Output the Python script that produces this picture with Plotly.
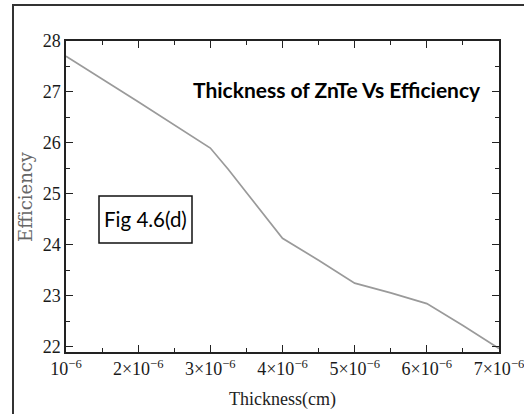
import plotly.graph_objects as go

thickness = [1.0e-6, 2.0e-6, 3.0e-6, 3.25e-6, 3.5e-6, 3.75e-6, 4.0e-6, 4.5e-6, 5.0e-6, 5.5e-6, 6.0e-6, 6.5e-6, 7.0e-6]
efficiency = [27.70, 26.81, 25.90, 25.48, 25.03, 24.58, 24.13, 23.70, 23.25, 23.06, 22.85, 22.42, 21.97]

x_tickvals = [1e-6, 2e-6, 3e-6, 4e-6, 5e-6, 6e-6, 7e-6]
x_ticktext = ["10<sup>−6</sup>", "2×10<sup>−6</sup>", "3×10<sup>−6</sup>", "4×10<sup>−6</sup>",
              "5×10<sup>−6</sup>", "6×10<sup>−6</sup>", "7×10<sup>−6</sup>"]
y_tickvals = [22, 23, 24, 25, 26, 27, 28]

W, H = 524, 414
L, R, T, B = 66, 25, 41, 62
pw, ph = W - L - R, H - T - B

def px(x):
    return (x - L) / pw

def py(y):
    return (H - B - y) / ph

fig = go.Figure()
fig.add_trace(go.Scatter(x=thickness, y=efficiency, mode="lines",
                         line=dict(color="#9a9a9a", width=1.7), showlegend=False))

serif = "Liberation Serif, Times New Roman, serif"
sans = "Lato, Open Sans, sans-serif"
axis_common = dict(showline=True, linecolor="#222", linewidth=1.5, mirror="ticks",
                   ticks="inside", ticklen=7, tickwidth=1, tickcolor="#222",
                   showgrid=False, zeroline=False, ticklabeloverflow="allow",
                   automargin=False,
                   tickfont=dict(family=serif, size=18, color="#1a1a1a"))

fig.update_xaxes(range=[1e-6, 7e-6], tickvals=x_tickvals, ticktext=x_ticktext,
                 minor=dict(ticks="inside", ticklen=4, tickcolor="#222", dtick=0.5e-6, tick0=1e-6),
                 **axis_common)
fig.update_yaxes(range=[21.9, 28], tickvals=y_tickvals, ticktext=[str(v) for v in y_tickvals],
                 minor=dict(ticks="inside", ticklen=4, tickcolor="#222", dtick=0.5, tick0=22),
                 **axis_common)

# outer frame
fig.add_shape(type="rect", xref="paper", yref="paper",
              x0=px(13), x1=px(540), y0=py(430), y1=py(5),
              line=dict(color="#333", width=2), fillcolor="rgba(0,0,0,0)")

# axis titles
fig.add_annotation(text="Thickness(cm)", xref="paper", yref="paper", x=px(282), y=py(399),
                   xanchor="center", yanchor="middle",
                   showarrow=False, font=dict(family=serif, size=18, color="#222"))
fig.add_annotation(text="Efficiency", xref="paper", yref="paper", x=px(25), y=py(197),
                   xanchor="center", yanchor="middle",
                   textangle=-90, showarrow=False,
                   font=dict(family="DejaVu Serif, serif", size=18, color="#666"))

# title annotation
fig.add_annotation(text="<b>Thickness of ZnTe Vs Efficiency</b>", xref="paper", yref="paper",
                   x=px(337), y=py(89), xanchor="center", yanchor="middle", showarrow=False,
                   font=dict(family=sans, size=21, color="#000"))

# figure label box
fig.add_shape(type="rect", xref="paper", yref="paper",
              x0=px(99), x1=px(192), y0=py(243), y1=py(196),
              line=dict(color="#111", width=1.5), fillcolor="white")
fig.add_annotation(text="Fig 4.6(d)", xref="paper", yref="paper", x=px(145), y=py(219),
                   xanchor="center", yanchor="middle",
                   showarrow=False, font=dict(family=sans, size=20.5, color="#000"))

fig.update_layout(width=W, height=H, margin=dict(l=L, r=R, t=T, b=B),
                  paper_bgcolor="white", plot_bgcolor="white")

fig.write_html("out.html")
